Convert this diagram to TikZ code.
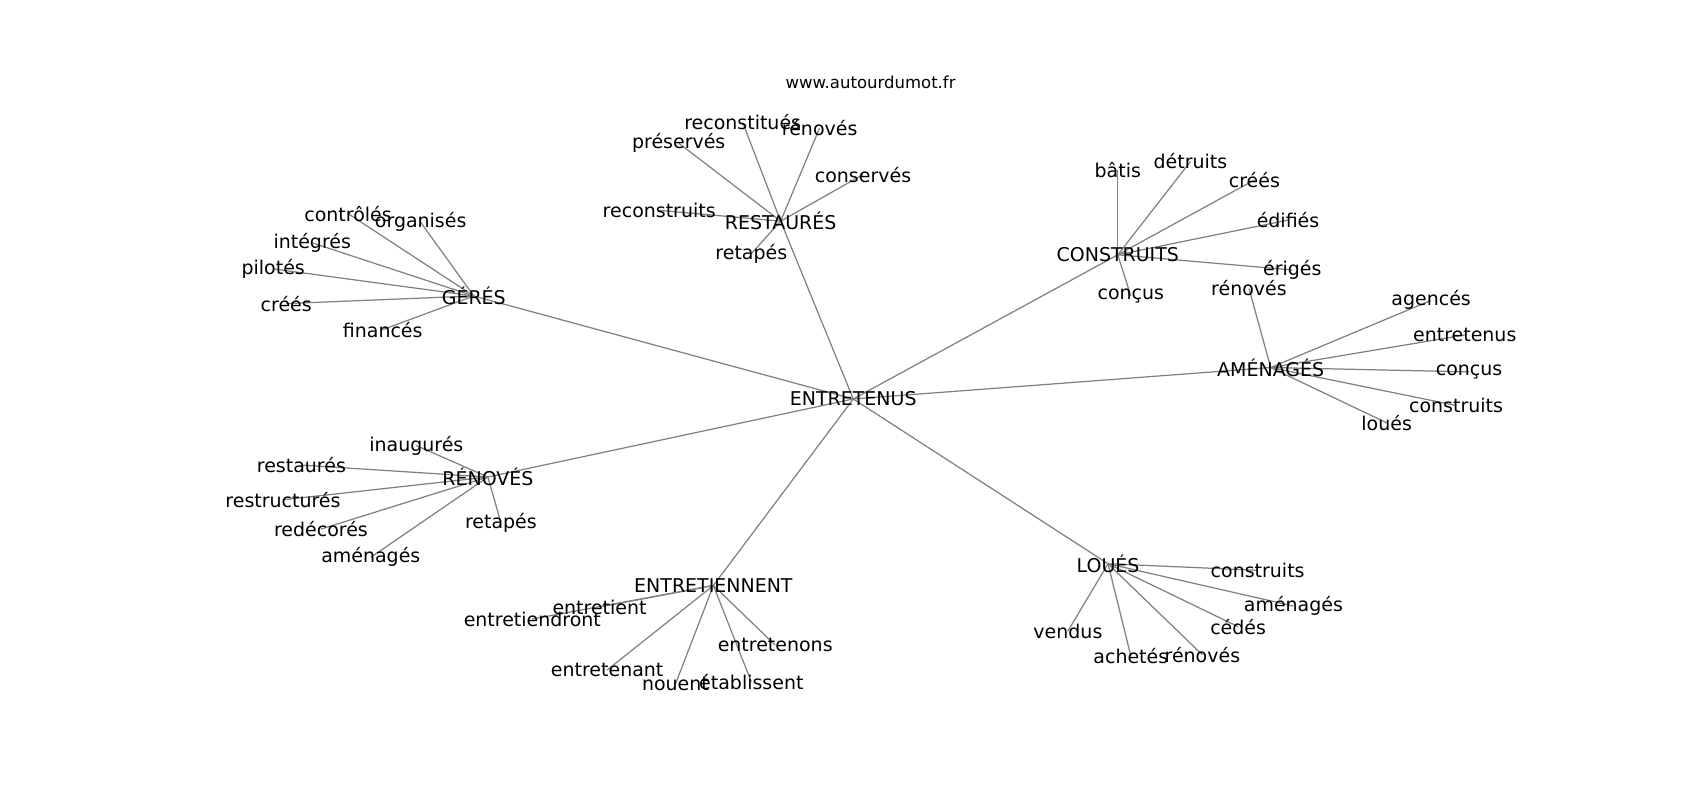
\documentclass[tikz,border=0pt]{standalone}
\usepackage{fontspec}
\setmainfont{DejaVu Sans}
\usepackage{tikz}
\usetikzlibrary{
    backgrounds,
    positioning
}

\begin{document}
\begin{tikzpicture}[x=0.021684cm, y=-0.021684cm]
                  % Define label and edge styles:
                  \tikzset{
                        word/.style={font=\fontsize{10.8}{13}\selectfont, inner sep=0pt},
                        link/.style={draw=gray, line width=0.7pt}
                  };

                  % Fix the page to the size of the plot
                  \useasboundingbox (0,0) rectangle (1568,738);

                  % Title
                  \node[font=\fontsize{9.4}{11}\selectfont, inner sep=0pt] (title) at (803,76) {www.autourdumot.fr};

                  % Central word and its seven neighbours
                  \node[word] (Entretenus) at (787,368) {ENTRETENUS};
                  \node[word] (Restaures) at (720,204) {RESTAURÉS};
                  \node[word] (Geres) at (437,273) {GÉRÉS};
                  \node[word] (Construits) at (1031,235) {CONSTRUITS};
                  \node[word] (Amenages) at (1172,339) {AMÉNAGÉS};
                  \node[word] (Renoves) at (450,440) {RÉNOVÉS};
                  \node[word] (Entretiennent) at (658,540) {ENTRETIENNENT};
                  \node[word] (Loues) at (1022,520) {LOUÉS};

                  % Words around RESTAURÉS
                  \node[word] (reconstitues_R) at (685,113) {reconstitués};
                  \node[word] (renoves_R) at (756,118) {rénovés};
                  \node[word] (preserves_R) at (626,132) {préservés};
                  \node[word] (conserves_R) at (796,161) {conservés};
                  \node[word] (reconstruits_R) at (608,194) {reconstruits};
                  \node[word] (retapes_R) at (693,234) {retapés};

                  % Words around GÉRÉS
                  \node[word] (controles_G) at (321,197) {contrôlés};
                  \node[word] (organises_G) at (388,205) {organisés};
                  \node[word] (integres_G) at (288,224) {intégrés};
                  \node[word] (pilotes_G) at (252,248) {pilotés};
                  \node[word] (crees_G) at (264,280) {créés};
                  \node[word] (finances_G) at (353,304) {financés};

                  % Words around CONSTRUITS
                  \node[word] (batis_C) at (1031,157) {bâtis};
                  \node[word] (detruits_C) at (1098,149) {détruits};
                  \node[word] (crees_C) at (1157,166) {créés};
                  \node[word] (edifies_C) at (1188,203) {édifiés};
                  \node[word] (eriges_C) at (1192,249) {érigés};
                  \node[word] (concus_C) at (1043,273) {conçus};

                  % Words around AMÉNAGÉS
                  \node[word] (renoves_A) at (1152,266) {rénovés};
                  \node[word] (agences_A) at (1320,277) {agencés};
                  \node[word] (entretenus_A) at (1351,309) {entretenus};
                  \node[word] (concus_A) at (1355,343) {conçus};
                  \node[word] (construits_A) at (1343,374) {construits};
                  \node[word] (loues_A) at (1279,390) {loués};

                  % Words around RÉNOVÉS
                  \node[word] (inaugures_N) at (384,411) {inaugurés};
                  \node[word] (restaures_N) at (278,429) {restaurés};
                  \node[word] (restructures_N) at (261,461) {restructurés};
                  \node[word] (redecores_N) at (296,488) {redécorés};
                  \node[word] (amenages_N) at (342,514) {aménagés};
                  \node[word] (retapes_N) at (462,482) {retapés};

                  % Words around ENTRETIENNENT
                  \node[word] (entretient_E) at (553,560) {entretient};
                  \node[word] (entretiendront_E) at (491,571) {entretiendront};
                  \node[word] (entretenons_E) at (715,595) {entretenons};
                  \node[word] (entretenant_E) at (560,618) {entretenant};
                  \node[word] (nouent_E) at (623,631) {nouent};
                  \node[word] (etablissent_E) at (693,629) {établissent};

                  % Words around LOUÉS
                  \node[word] (construits_L) at (1160,526) {construits};
                  \node[word] (amenages_L) at (1193,559) {aménagés};
                  \node[word] (cedes_L) at (1142,578) {cédés};
                  \node[word] (vendus_L) at (985,582) {vendus};
                  \node[word] (achetes_L) at (1043,605) {achetés};
                  \node[word] (renoves_L) at (1109,604) {rénovés};

                  % Edges go behind the labels
                  \begin{scope}[on background layer]
                        \foreach \hub in {Restaures, Geres, Construits, Amenages, Renoves, Entretiennent, Loues}
                              \draw[link] (Entretenus.center) -- (\hub.center);
                        \foreach \leaf in {reconstitues_R, renoves_R, preserves_R, conserves_R, reconstruits_R, retapes_R}
                              \draw[link] (Restaures.center) -- (\leaf.center);
                        \foreach \leaf in {controles_G, organises_G, integres_G, pilotes_G, crees_G, finances_G}
                              \draw[link] (Geres.center) -- (\leaf.center);
                        \foreach \leaf in {batis_C, detruits_C, crees_C, edifies_C, eriges_C, concus_C}
                              \draw[link] (Construits.center) -- (\leaf.center);
                        \foreach \leaf in {renoves_A, agences_A, entretenus_A, concus_A, construits_A, loues_A}
                              \draw[link] (Amenages.center) -- (\leaf.center);
                        \foreach \leaf in {inaugures_N, restaures_N, restructures_N, redecores_N, amenages_N, retapes_N}
                              \draw[link] (Renoves.center) -- (\leaf.center);
                        \foreach \leaf in {entretient_E, entretiendront_E, entretenons_E, entretenant_E, nouent_E, etablissent_E}
                              \draw[link] (Entretiennent.center) -- (\leaf.center);
                        \foreach \leaf in {construits_L, amenages_L, cedes_L, vendus_L, achetes_L, renoves_L}
                              \draw[link] (Loues.center) -- (\leaf.center);
                  \end{scope}
\end{tikzpicture}
\end{document}
